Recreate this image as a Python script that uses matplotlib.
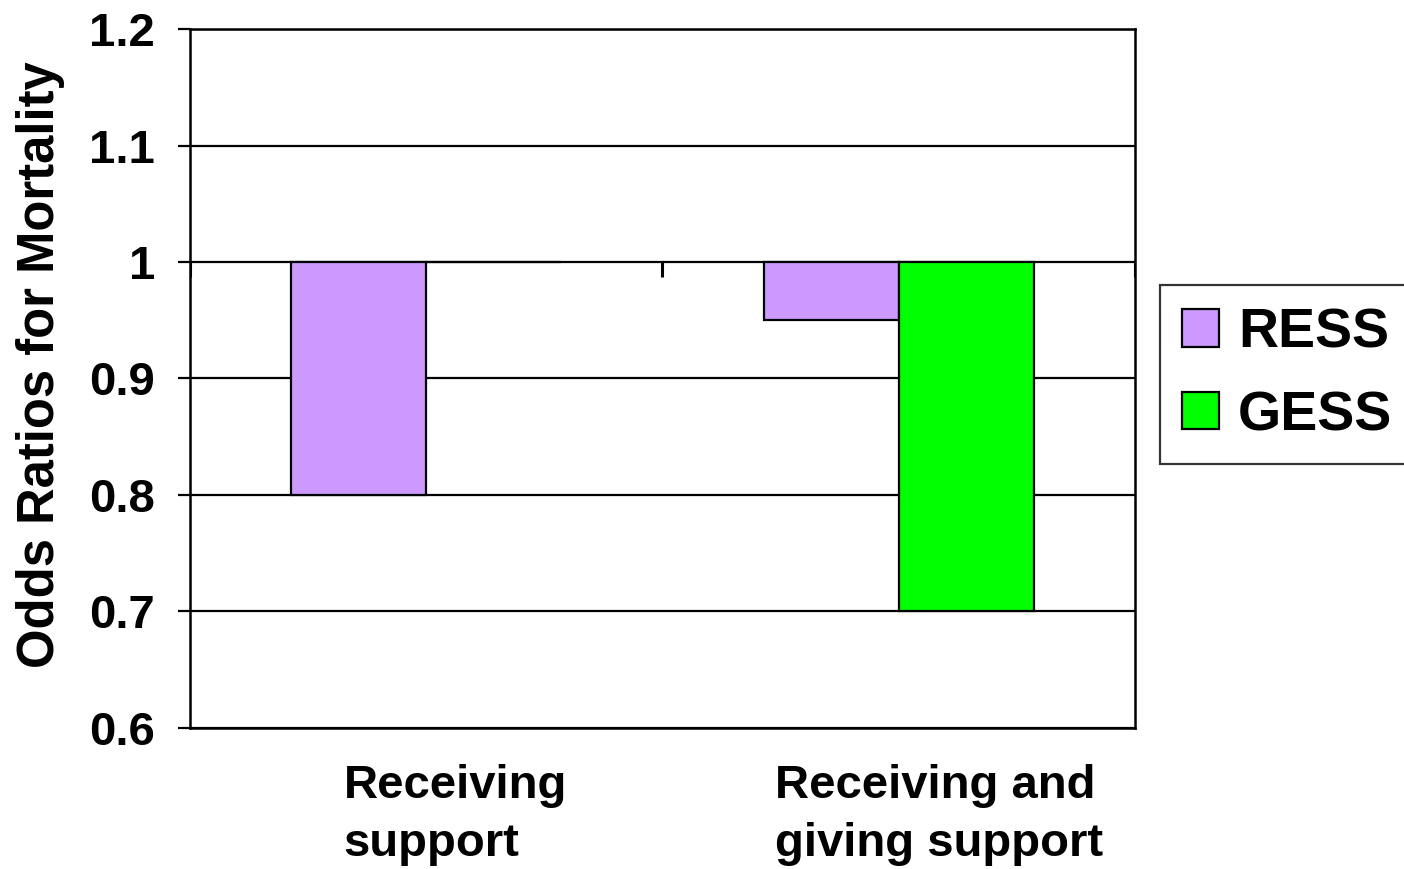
import numpy as np
import matplotlib.pyplot as plt
import matplotlib.transforms as mtransforms

plt.rcParams['font.family'] = ['Liberation Sans', 'DejaVu Sans']
plt.rcParams['font.weight'] = 'bold'

# Odds ratios for mortality by support type (bars hang from OR = 1)
categories = ['Receiving\nsupport', 'Receiving and\ngiving support']
series_names = ['RESS', 'GESS']
ress = [0.80, 0.95]
gess = [1.00, 0.70]
colors = ['#CC99FF', '#00FF00']
y_ticks = [0.6, 0.7, 0.8, 0.9, 1.0, 1.1, 1.2]
y_tick_labels = ['0.6', '0.7', '0.8', '0.9', '1', '1.1', '1.2']
baseline = 1.0

fig = plt.figure(figsize=(14.04, 8.69), dpi=100)
ax = fig.add_axes([0.1353, 0.1623, 0.8084 - 0.1353, 0.9666 - 0.1623])

x = np.arange(len(categories))
width = 0.286
for i, (vals, name) in enumerate(zip([ress, gess], series_names)):
    offset = (i - 0.5) * width
    heights = [v - baseline for v in vals]
    ax.bar(x + offset, heights, width, bottom=baseline, color=colors[i],
           edgecolor='black', linewidth=1.6, label=name, zorder=3)

ax.set_xlim(-0.5, len(categories) - 0.5)
ax.set_ylim(y_ticks[0], y_ticks[-1])
ax.set_yticks(y_ticks)
ax.set_yticklabels(y_tick_labels)
ax.yaxis.grid(True, color='black', linewidth=1.6, zorder=0)
ax.set_axisbelow(True)

# category separators hang below the axis crossing at 1
bounds = np.arange(len(categories) + 1) - 0.5
ax.vlines(bounds, baseline - 0.013, baseline, color='black', linewidth=2.2, zorder=4)

ax.set_xticks(x)
ax.set_xticklabels(categories, fontsize=34, fontweight='bold',
                   linespacing=1.4, multialignment='left')
ax.tick_params(axis='x', length=0, pad=26)
ax.tick_params(axis='y', length=9, width=1.6, direction='out', pad=16,
               labelsize=34)
for lbl in ax.get_yticklabels():
    lbl.set_fontweight('bold')

# nudge the category labels a little to the right
for lbl, dx in zip(ax.get_xticklabels(), [21, 29]):
    lbl.set_transform(lbl.get_transform() +
                      mtransforms.ScaledTranslation(dx / 72, 0, fig.dpi_scale_trans))

for side in ['left', 'right', 'top', 'bottom']:
    ax.spines[side].set_linewidth(1.8)
    ax.spines[side].set_color('black')

fig.text(0.0285, 0.58, 'Odds Ratios for Mortality', rotation=90,
         ha='center', va='center', fontsize=36.5, fontweight='bold')

leg = fig.legend(loc='center left', bbox_to_anchor=(0.826, 0.5685),
                 fontsize=40, frameon=True, fancybox=False, shadow=False,
                 handlelength=0.66, handleheight=0.66, handletextpad=0.35,
                 borderpad=0.4, labelspacing=0.55, borderaxespad=0)
leg.get_frame().set_edgecolor('black')
leg.get_frame().set_linewidth(1.6)
for t in leg.get_texts():
    t.set_fontweight('bold')

fig.savefig('out.png', dpi=100)
